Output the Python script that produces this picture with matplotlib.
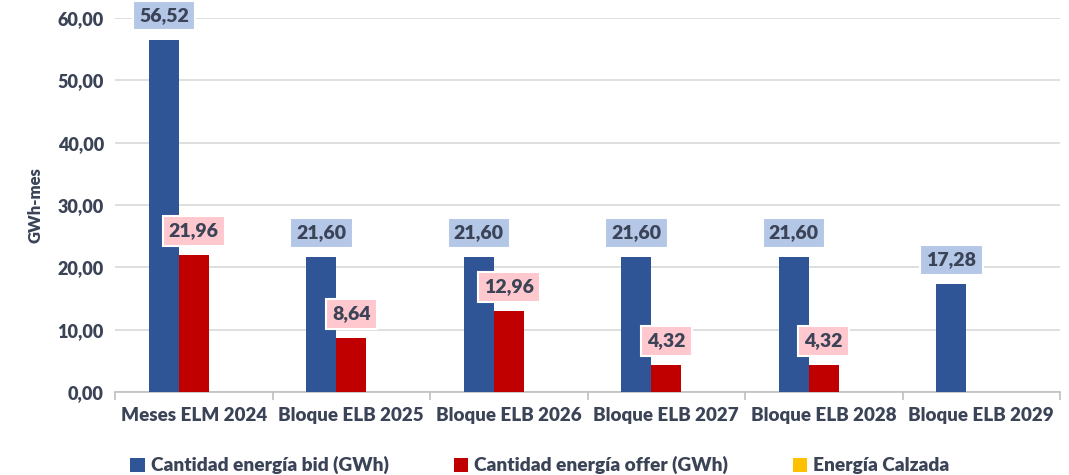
import numpy as np
import matplotlib.pyplot as plt

categorias = ["Meses ELM 2024", "Bloque ELB 2025", "Bloque ELB 2026",
              "Bloque ELB 2027", "Bloque ELB 2028", "Bloque ELB 2029"]
bid = [56.52, 21.60, 21.60, 21.60, 21.60, 17.28]
offer = [21.96, 8.64, 12.96, 4.32, 4.32, 0.0]
calzada = [0, 0, 0, 0, 0, 0]

series = ["Cantidad energía bid (GWh)", "Cantidad energía offer (GWh)", "Energía Calzada"]
colores = ["#2f5597", "#c00000", "#ffc000"]
cajas = ["#b4c7e7", "#ffc7ce", None]

texto = "#3b4357"
plt.rcParams['font.family'] = ['Lato', 'DejaVu Sans']
plt.rcParams['font.weight'] = 'bold'

fig = plt.figure(figsize=(10.69, 4.75), dpi=100)
ax = fig.add_axes([0.1076, 0.1747, 0.884, 0.7873])

x = np.arange(len(categorias))
w = 0.19
for i, (vals, col) in enumerate(zip([bid, offer, calzada], colores)):
    pos = x + (i - 1) * w
    ax.bar(pos, vals, width=w, color=col, label=series[i], zorder=3)
    if cajas[i] is None:
        continue
    for p, v in zip(pos, vals):
        if v <= 0:
            continue
        ax.text(p, v + 3.9, f"{v:.2f}".replace(".", ","), ha="center", va="center",
                fontsize=14, fontweight="heavy", color=texto, zorder=5,
                bbox=dict(boxstyle="square,pad=0.32", fc=cajas[i], ec="white", lw=1.5))

ax.set_xlim(-0.5, len(categorias) - 0.5)
ax.set_ylim(0, 60)
ax.set_yticks(np.arange(0, 61, 10))
ax.set_yticklabels([f"{t:.2f}".replace(".", ",") for t in np.arange(0, 61, 10)],
                   fontsize=13, fontweight="heavy", color=texto)
ax.set_ylabel("GWh-mes", fontsize=12, fontweight="heavy", color=texto, labelpad=10)
ax.grid(axis="y", color="#d9d9d9", lw=1.2, zorder=0)

ax.set_xticks(x)
ax.set_xticklabels(categorias, fontsize=13.5, fontweight="heavy", color=texto)
ax.set_xticks(np.arange(-0.5, len(categorias)), minor=True)
ax.tick_params(axis="x", which="major", length=0, pad=11)
ax.tick_params(axis="x", which="minor", length=6, color="#bfbfbf", width=1.2)
ax.tick_params(axis="y", length=0, pad=8)
for s in ["top", "right", "left"]:
    ax.spines[s].set_visible(False)
ax.spines["bottom"].set_color("#bfbfbf")
ax.spines["bottom"].set_linewidth(1.2)

leg = fig.legend(loc="lower center", bbox_to_anchor=(0.505, -0.035), ncol=3, frameon=False,
                 fontsize=13.8, handlelength=0.75, handleheight=0.75, handletextpad=0.3,
                 columnspacing=3.4)
for t in leg.get_texts():
    t.set_color(texto)
    t.set_fontweight("heavy")

fig.savefig("out.png", dpi=100)
